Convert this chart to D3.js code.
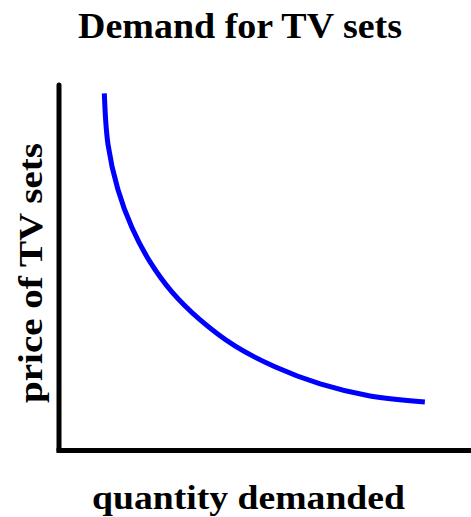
<!DOCTYPE html>
<html>
<head>
<meta charset="utf-8">
<script src="https://cdn.jsdelivr.net/npm/d3@7"></script>
<style>
  html, body { margin: 0; padding: 0; background: #ffffff; }
  svg { display: block; }
  text { font-family: "Liberation Serif", "Times New Roman", serif; font-weight: bold; fill: #000; }
</style>
</head>
<body>
<script>
// ---- data (arbitrary units) ----
const quantity = [11.0, 11.9, 14.3, 17.7, 22.1, 27.4, 34.2, 42.7, 52.4, 63.4, 75.5, 88.8];
const price    = [97.7, 83.7, 71.4, 61.0, 51.6, 43.4, 35.8, 28.6, 22.9, 18.2, 14.9, 13.3];
const titleText = "Demand for TV sets";
const xLabelText = "quantity demanded";
const yLabelText = "price of TV sets";

const W = 471, H = 517;
const svg = d3.select("body").append("svg").attr("width", W).attr("height", H);
svg.append("rect").attr("width", W).attr("height", H).attr("fill", "#fff");

const x = d3.scaleLinear().domain([0, 100]).range([59, 471]);
const y = d3.scaleLinear().domain([0, 100]).range([450.5, 85]);

// axes (plain lines, no ticks)
svg.append("line")
  .attr("x1", x(0)).attr("x2", x(0))
  .attr("y1", y(100)).attr("y2", y(0))
  .attr("stroke", "#000").attr("stroke-width", 5).attr("stroke-linecap", "round");
svg.append("line")
  .attr("x1", x(0) - 2.5).attr("x2", x(100))
  .attr("y1", y(0)).attr("y2", y(0))
  .attr("stroke", "#000").attr("stroke-width", 5);

// demand curve
const pts = quantity.map((q, i) => [q, price[i]]);
const line = d3.line().x(d => x(d[0])).y(d => y(d[1])).curve(d3.curveCatmullRom.alpha(0.5));
svg.append("path").attr("d", line(pts))
  .attr("fill", "none").attr("stroke", "#0000ff").attr("stroke-width", 5);

// title
svg.append("text").attr("x", 78).attr("y", 38)
  .attr("font-size", 35)
  .attr("textLength", 324).attr("lengthAdjust", "spacingAndGlyphs")
  .text(titleText);

// x label
svg.append("text").attr("x", 92).attr("y", 509)
  .attr("font-size", 34)
  .attr("textLength", 313).attr("lengthAdjust", "spacingAndGlyphs")
  .text(xLabelText);

// y label
svg.append("text")
  .attr("transform", "translate(42,403) rotate(-90)")
  .attr("font-size", 34)
  .attr("textLength", 260).attr("lengthAdjust", "spacingAndGlyphs")
  .text(yLabelText);
</script>
</body>
</html>
